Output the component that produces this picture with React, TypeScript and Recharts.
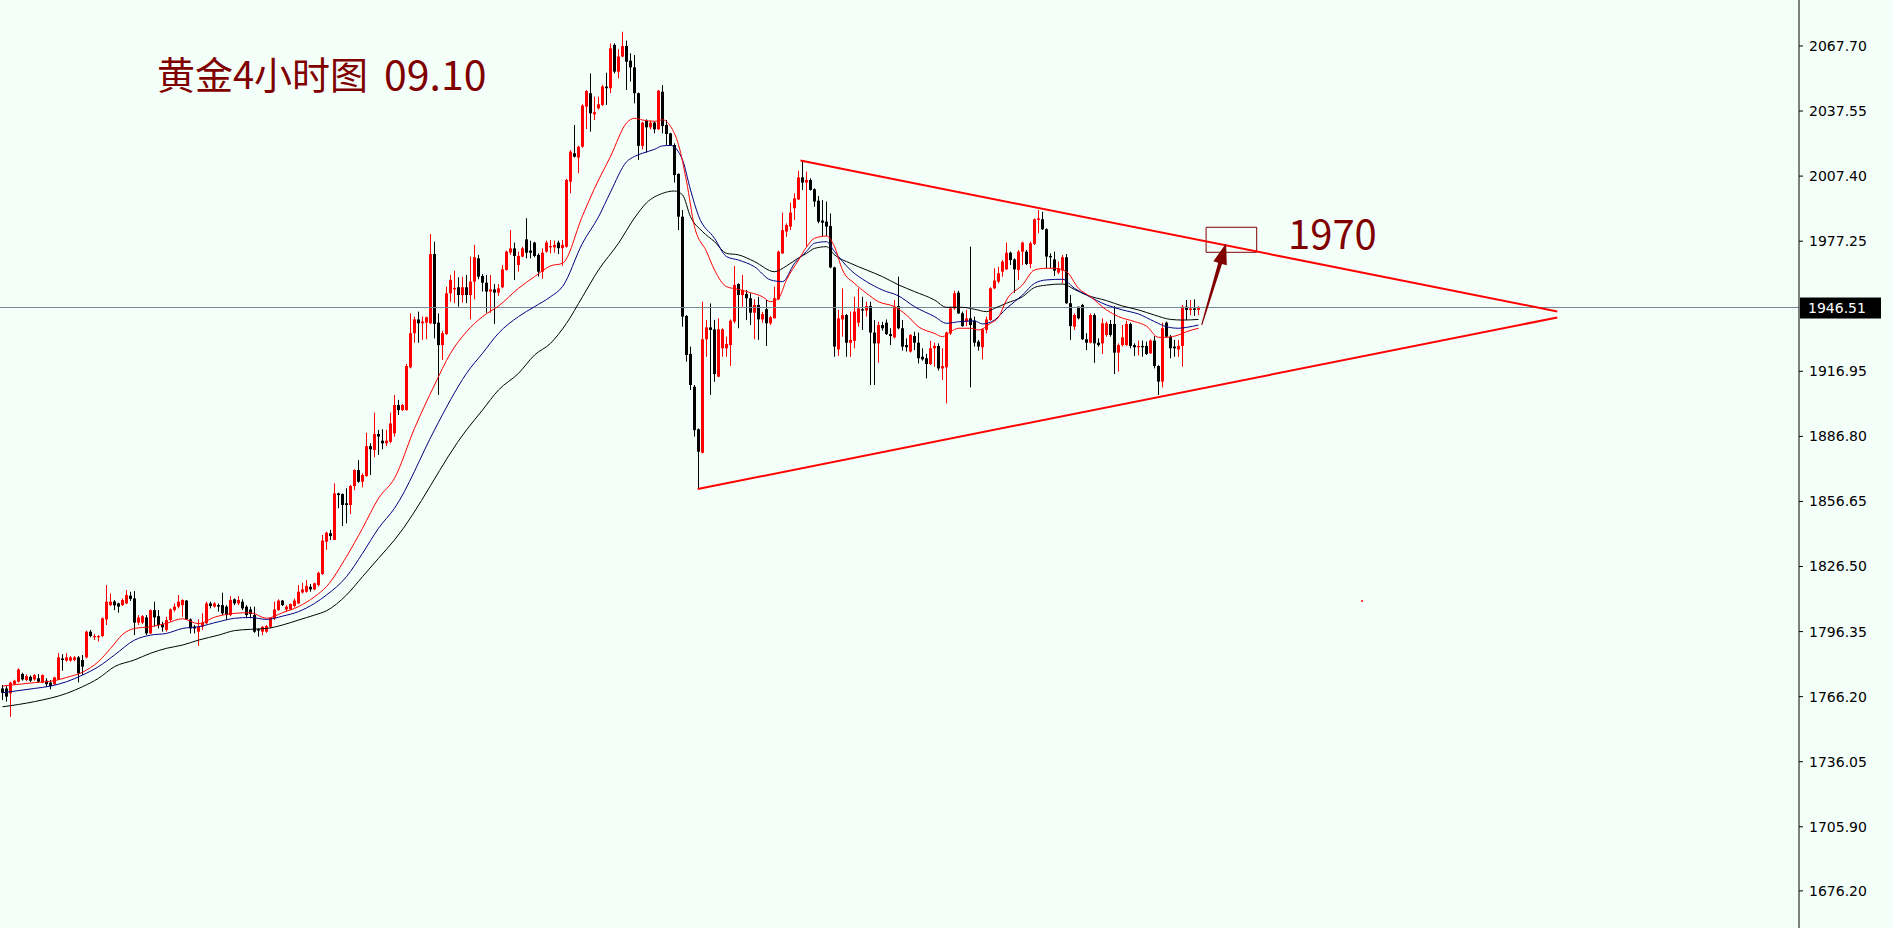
import React from "react";
import {
  Bar,
  ComposedChart,
  Line,
  ReferenceArea,
  ReferenceDot,
  ReferenceLine,
  XAxis,
  YAxis,
} from "recharts";

const W = 1893;
const H = 928;
const BG = "#f5fffa";
const UP = "#ff0000";
const DOWN = "#000000";
const NOTE = "#800000";

// 4h candles, [open, high, low, close]
const CANDLES: number[][] = [
  [1770.0, 1771.6, 1764.6, 1768.0], [1770.0, 1771.1, 1763.9, 1766.2], [1767.7, 1773.1, 1756.9, 1772.7],
  [1772.0, 1774.0, 1771.6, 1773.6], [1773.1, 1779.3, 1772.7, 1778.8], [1776.7, 1777.3, 1773.6, 1774.2],
  [1773.9, 1776.5, 1773.3, 1775.7], [1775.4, 1776.0, 1773.0, 1773.6], [1774.2, 1776.7, 1773.6, 1776.2],
  [1774.7, 1776.7, 1772.7, 1773.1], [1772.8, 1776.5, 1772.5, 1776.2], [1773.6, 1774.7, 1770.8, 1772.0],
  [1772.7, 1773.9, 1769.6, 1771.1], [1772.0, 1775.4, 1771.6, 1775.1], [1774.2, 1786.3, 1773.9, 1784.4],
  [1783.9, 1785.9, 1778.2, 1783.2], [1782.9, 1786.3, 1782.4, 1784.4], [1782.9, 1785.0, 1782.4, 1784.4],
  [1783.2, 1785.0, 1782.6, 1784.4], [1784.4, 1785.0, 1772.8, 1777.0], [1783.2, 1785.5, 1776.2, 1780.1],
  [1784.4, 1796.8, 1783.9, 1796.3], [1796.3, 1797.1, 1793.7, 1794.3], [1793.7, 1795.2, 1792.4, 1794.3],
  [1793.7, 1794.7, 1791.7, 1794.3], [1794.3, 1802.9, 1793.7, 1802.5], [1802.0, 1817.9, 1799.4, 1810.2],
  [1808.6, 1814.0, 1808.2, 1810.2], [1810.3, 1811.0, 1806.3, 1808.5], [1809.4, 1809.7, 1805.1, 1807.9],
  [1808.6, 1811.7, 1808.2, 1811.0], [1809.4, 1815.6, 1809.1, 1813.3], [1813.0, 1814.8, 1810.5, 1811.5],
  [1811.7, 1815.1, 1794.7, 1800.5], [1800.5, 1804.0, 1799.4, 1802.9], [1800.5, 1804.0, 1799.8, 1803.5],
  [1802.9, 1804.0, 1794.7, 1795.5], [1795.5, 1806.6, 1795.2, 1806.3], [1806.3, 1810.2, 1798.6, 1802.9],
  [1803.5, 1806.3, 1797.8, 1799.4], [1799.8, 1800.9, 1796.3, 1798.3], [1797.1, 1803.2, 1796.3, 1801.7],
  [1801.7, 1807.1, 1800.9, 1806.6], [1806.3, 1809.4, 1805.6, 1807.9], [1807.9, 1813.3, 1807.1, 1810.2],
  [1808.6, 1811.3, 1803.2, 1811.0], [1810.7, 1811.0, 1801.7, 1802.0], [1802.0, 1802.5, 1795.5, 1797.8],
  [1798.6, 1799.4, 1795.5, 1797.8], [1796.3, 1802.0, 1789.7, 1798.6], [1798.6, 1804.8, 1797.1, 1800.5],
  [1800.2, 1810.2, 1799.8, 1809.4], [1809.4, 1810.2, 1807.1, 1808.2], [1807.9, 1810.0, 1807.5, 1809.4],
  [1808.6, 1809.4, 1805.6, 1807.9], [1808.6, 1814.4, 1804.0, 1804.8], [1807.9, 1808.6, 1801.7, 1804.0],
  [1804.0, 1812.8, 1803.5, 1811.0], [1811.3, 1811.7, 1808.6, 1809.4], [1809.4, 1812.8, 1808.6, 1811.0],
  [1810.2, 1811.3, 1806.3, 1807.1], [1807.9, 1808.6, 1802.5, 1804.0], [1806.6, 1807.9, 1802.5, 1804.5],
  [1804.0, 1807.9, 1795.8, 1796.3], [1797.4, 1797.8, 1794.0, 1796.8], [1796.3, 1798.9, 1794.7, 1798.6],
  [1796.3, 1799.4, 1795.8, 1798.9], [1798.6, 1802.9, 1797.8, 1802.5], [1802.5, 1810.2, 1801.7, 1806.6],
  [1806.3, 1811.3, 1806.0, 1810.7], [1810.7, 1811.0, 1808.2, 1808.6], [1806.6, 1808.6, 1805.6, 1807.9],
  [1806.6, 1809.4, 1806.3, 1809.1], [1808.2, 1811.7, 1807.5, 1810.7], [1809.4, 1817.9, 1809.1, 1814.8],
  [1814.5, 1819.0, 1814.0, 1815.9], [1814.8, 1820.2, 1814.4, 1817.5], [1817.1, 1818.4, 1814.8, 1815.9],
  [1815.9, 1819.0, 1815.6, 1818.7], [1817.9, 1824.1, 1817.2, 1823.6], [1823.0, 1841.1, 1822.6, 1838.5],
  [1838.0, 1842.6, 1834.2, 1842.2], [1841.9, 1843.5, 1838.8, 1840.6], [1838.8, 1865.0, 1838.8, 1860.4],
  [1860.4, 1860.7, 1853.5, 1859.6], [1860.1, 1860.4, 1845.3, 1855.0], [1855.8, 1862.7, 1846.5, 1855.0],
  [1855.0, 1864.3, 1850.8, 1863.8], [1863.8, 1871.5, 1861.9, 1871.2], [1871.2, 1875.8, 1865.3, 1865.8],
  [1865.8, 1869.7, 1863.2, 1868.9], [1868.4, 1888.5, 1868.1, 1882.3], [1882.3, 1883.6, 1868.9, 1880.8],
  [1880.5, 1897.8, 1877.1, 1887.9], [1887.9, 1889.8, 1878.2, 1886.7], [1884.8, 1890.1, 1880.8, 1883.6],
  [1883.6, 1889.8, 1882.3, 1884.8], [1884.3, 1897.8, 1883.6, 1892.8], [1888.2, 1906.0, 1886.7, 1901.3],
  [1901.3, 1903.7, 1896.7, 1899.0], [1899.0, 1901.8, 1898.5, 1901.3], [1899.0, 1920.4, 1898.7, 1919.4],
  [1918.8, 1943.8, 1918.3, 1934.6], [1934.6, 1942.3, 1930.2, 1941.0], [1941.0, 1944.6, 1930.2, 1939.2],
  [1939.2, 1942.3, 1931.5, 1940.0], [1939.5, 1942.3, 1931.8, 1942.0], [1939.2, 1980.6, 1938.9, 1971.3],
  [1971.3, 1977.0, 1932.2, 1938.9], [1939.5, 1943.8, 1906.0, 1929.1], [1929.1, 1935.8, 1922.2, 1934.6],
  [1934.2, 1956.2, 1933.8, 1953.1], [1953.1, 1961.6, 1949.2, 1959.3], [1954.9, 1963.6, 1948.5, 1955.6],
  [1955.9, 1960.5, 1946.9, 1952.3], [1952.3, 1960.8, 1948.8, 1955.9], [1955.9, 1961.6, 1948.5, 1952.3],
  [1952.3, 1970.1, 1941.0, 1958.5], [1958.5, 1975.5, 1950.3, 1969.8], [1969.3, 1970.9, 1959.6, 1960.8],
  [1961.1, 1962.0, 1953.9, 1958.0], [1958.0, 1961.6, 1944.1, 1953.9], [1953.9, 1961.6, 1944.1, 1954.9],
  [1954.9, 1957.4, 1938.9, 1953.4], [1953.4, 1957.4, 1951.9, 1955.4], [1955.9, 1966.2, 1955.4, 1964.2],
  [1963.9, 1972.9, 1963.6, 1972.4], [1972.0, 1982.4, 1970.9, 1973.9], [1973.9, 1976.6, 1959.3, 1970.4],
  [1966.2, 1972.4, 1963.1, 1970.4], [1970.1, 1974.7, 1969.8, 1973.9], [1978.1, 1987.9, 1969.3, 1971.9],
  [1972.9, 1977.5, 1969.3, 1971.9], [1976.6, 1977.0, 1969.8, 1970.4], [1970.9, 1971.6, 1960.8, 1963.1],
  [1963.1, 1973.9, 1959.9, 1971.9], [1972.4, 1977.5, 1971.9, 1976.6], [1974.4, 1977.8, 1971.6, 1975.0],
  [1974.4, 1977.5, 1971.9, 1975.5], [1976.6, 1977.5, 1971.3, 1974.0], [1974.0, 1977.8, 1965.8, 1975.5],
  [1974.7, 2006.1, 1974.2, 2005.6], [2004.8, 2019.5, 1999.4, 2018.7], [2018.0, 2031.1, 2016.0, 2016.4],
  [2016.0, 2021.5, 2008.7, 2021.0], [2021.0, 2040.7, 2020.6, 2040.1], [2039.6, 2047.3, 2029.2, 2046.8],
  [2045.8, 2055.0, 2028.0, 2036.5], [2036.0, 2044.2, 2033.4, 2037.0], [2038.8, 2044.2, 2038.3, 2040.7],
  [2040.4, 2049.6, 2039.9, 2048.9], [2048.9, 2055.3, 2040.4, 2048.1], [2048.1, 2068.9, 2045.8, 2066.6],
  [2068.2, 2068.9, 2055.0, 2055.8], [2055.8, 2066.2, 2052.7, 2062.8], [2062.8, 2074.3, 2062.5, 2067.7],
  [2067.7, 2070.2, 2047.3, 2060.4], [2060.9, 2064.3, 2051.2, 2057.8], [2057.8, 2063.5, 2041.1, 2045.8],
  [2045.8, 2046.1, 2014.9, 2021.4], [2021.4, 2032.6, 2019.8, 2032.2], [2033.0, 2033.7, 2018.3, 2030.0],
  [2030.0, 2033.0, 2029.0, 2032.2], [2032.2, 2032.6, 2027.2, 2029.1], [2029.1, 2047.3, 2028.8, 2047.0],
  [2046.5, 2049.6, 2027.2, 2030.6], [2031.1, 2033.4, 2021.8, 2026.9], [2027.2, 2027.5, 2021.5, 2021.8],
  [2021.8, 2022.6, 2004.4, 2007.9], [2008.4, 2008.7, 1982.4, 1988.6], [1988.6, 1991.7, 1937.6, 1942.3],
  [1942.6, 1943.0, 1921.4, 1924.5], [1925.0, 1928.4, 1908.3, 1910.6], [1909.8, 1910.6, 1886.7, 1889.7],
  [1890.1, 1890.5, 1862.4, 1879.7], [1879.2, 1949.2, 1878.9, 1931.8], [1931.8, 1940.7, 1923.7, 1937.3],
  [1937.3, 1948.4, 1906.0, 1936.1], [1936.4, 1940.7, 1912.1, 1915.7], [1914.5, 1941.5, 1914.2, 1936.4],
  [1927.6, 1936.9, 1923.7, 1936.4], [1927.6, 1933.0, 1923.7, 1929.6], [1929.1, 1941.0, 1919.4, 1940.4],
  [1940.0, 1965.8, 1939.2, 1957.0], [1957.4, 1957.7, 1936.9, 1952.3], [1952.3, 1961.6, 1946.9, 1954.6],
  [1952.8, 1954.6, 1940.7, 1950.8], [1950.8, 1953.1, 1938.4, 1944.1], [1944.1, 1950.3, 1931.8, 1947.7],
  [1947.7, 1951.5, 1931.5, 1941.0], [1941.0, 1944.5, 1939.5, 1943.5], [1945.7, 1950.0, 1928.7, 1939.2],
  [1939.2, 1942.6, 1938.4, 1942.0], [1941.5, 1956.2, 1941.5, 1950.8], [1950.3, 1972.9, 1950.0, 1972.4],
  [1971.6, 1990.5, 1971.3, 1982.4], [1981.7, 1985.5, 1979.3, 1984.7], [1984.0, 1995.1, 1982.4, 1990.5],
  [1992.5, 1999.4, 1987.1, 1997.1], [1996.6, 2009.9, 1996.3, 2006.8], [2006.8, 2014.1, 2001.0, 2004.4],
  [2004.4, 2009.5, 1974.7, 2005.6], [2005.6, 2006.4, 2000.7, 2001.0], [2001.3, 2001.7, 1993.2, 1995.6],
  [1996.0, 1998.2, 1985.5, 1986.3], [1986.8, 1996.3, 1979.6, 1985.8], [1986.3, 1995.6, 1979.6, 1984.0],
  [1984.3, 1990.1, 1964.7, 1965.1], [1965.1, 1965.4, 1923.7, 1928.4], [1927.1, 1945.4, 1924.1, 1941.5],
  [1941.0, 1955.4, 1933.0, 1943.0], [1943.0, 1943.5, 1923.7, 1930.2], [1930.2, 1944.6, 1923.7, 1931.5],
  [1931.1, 1951.5, 1927.6, 1944.6], [1939.5, 1955.4, 1937.6, 1946.1], [1945.7, 1951.5, 1936.1, 1945.1],
  [1945.1, 1949.2, 1942.3, 1947.2], [1947.2, 1949.2, 1910.6, 1934.9], [1934.9, 1940.7, 1910.6, 1929.9],
  [1929.9, 1939.9, 1921.0, 1938.4], [1938.4, 1939.9, 1935.8, 1936.9], [1939.5, 1941.0, 1933.8, 1934.2],
  [1934.2, 1936.9, 1929.1, 1933.3], [1932.7, 1950.0, 1932.2, 1946.9], [1947.2, 1960.8, 1936.4, 1936.9],
  [1936.9, 1940.7, 1926.5, 1928.4], [1929.1, 1932.2, 1926.1, 1928.1], [1926.1, 1934.2, 1925.6, 1933.8],
  [1933.3, 1935.3, 1926.8, 1930.2], [1930.2, 1934.9, 1920.6, 1923.0], [1923.7, 1927.6, 1921.9, 1922.5],
  [1923.0, 1925.0, 1913.7, 1920.3], [1920.3, 1931.1, 1919.9, 1927.6], [1927.6, 1930.2, 1919.1, 1928.7],
  [1928.7, 1929.9, 1917.3, 1918.3], [1918.3, 1927.6, 1912.9, 1919.4], [1918.8, 1935.3, 1902.1, 1934.9],
  [1934.5, 1946.9, 1933.8, 1946.1], [1946.1, 1954.3, 1945.4, 1953.1], [1953.4, 1954.3, 1943.5, 1943.8],
  [1943.8, 1944.6, 1937.6, 1937.9], [1940.0, 1945.4, 1937.9, 1941.5], [1941.5, 1974.7, 1909.5, 1938.4],
  [1940.4, 1942.3, 1928.4, 1930.2], [1930.7, 1931.5, 1926.5, 1928.4], [1928.1, 1936.9, 1922.5, 1936.4],
  [1936.1, 1942.3, 1934.5, 1941.0], [1940.7, 1955.9, 1940.4, 1955.4], [1955.4, 1964.7, 1955.0, 1959.0],
  [1958.5, 1965.4, 1957.7, 1962.4], [1963.1, 1968.5, 1960.8, 1967.8], [1964.2, 1976.6, 1963.9, 1971.9],
  [1971.9, 1972.4, 1966.2, 1968.5], [1968.8, 1969.3, 1953.4, 1964.2], [1963.9, 1973.2, 1959.3, 1972.4],
  [1972.4, 1977.0, 1966.2, 1976.6], [1972.4, 1973.2, 1966.2, 1966.7], [1966.7, 1977.0, 1964.7, 1976.3],
  [1976.0, 1987.8, 1975.5, 1987.4], [1987.1, 1991.7, 1980.9, 1987.8], [1987.4, 1990.9, 1982.4, 1982.8],
  [1982.8, 1983.2, 1964.7, 1970.1], [1970.4, 1971.6, 1964.7, 1969.8], [1968.8, 1972.4, 1961.1, 1963.6],
  [1962.7, 1967.8, 1962.0, 1964.7], [1963.6, 1970.9, 1957.7, 1969.8], [1969.8, 1971.3, 1948.2, 1948.5],
  [1948.5, 1952.3, 1931.5, 1937.9], [1937.6, 1943.8, 1936.1, 1943.0], [1946.9, 1946.9, 1941.0, 1941.5],
  [1947.7, 1948.2, 1931.5, 1931.8], [1931.8, 1934.6, 1926.8, 1930.2], [1930.2, 1943.8, 1929.9, 1943.0],
  [1943.0, 1943.8, 1920.9, 1929.9], [1930.2, 1932.2, 1928.4, 1929.1], [1929.9, 1941.5, 1925.0, 1939.2],
  [1933.8, 1940.0, 1933.0, 1939.2], [1938.9, 1940.7, 1933.0, 1933.8], [1938.9, 1947.2, 1915.7, 1925.6],
  [1925.6, 1929.9, 1916.8, 1929.1], [1929.1, 1938.4, 1928.4, 1932.7], [1929.1, 1940.4, 1928.7, 1938.9],
  [1938.9, 1939.5, 1927.6, 1928.7], [1929.1, 1929.9, 1924.0, 1928.1], [1928.1, 1931.2, 1924.3, 1928.7],
  [1928.7, 1931.2, 1923.7, 1928.1], [1928.7, 1930.7, 1924.5, 1925.0], [1925.3, 1931.8, 1925.0, 1931.2],
  [1931.2, 1933.3, 1918.3, 1919.4], [1919.4, 1919.8, 1906.0, 1912.2], [1912.2, 1939.5, 1909.5, 1936.9],
  [1939.5, 1940.0, 1932.7, 1933.0], [1933.0, 1933.8, 1923.0, 1927.6], [1928.4, 1931.5, 1923.7, 1927.6],
  [1927.1, 1931.5, 1923.7, 1928.7], [1928.7, 1947.7, 1919.1, 1946.9], [1946.9, 1950.0, 1940.7, 1945.4],
  [1945.4, 1950.0, 1943.0, 1946.1], [1946.1, 1950.3, 1942.6, 1945.4], [1945.4, 1947.2, 1943.0, 1946.51],
];

// moving averages, [candle index, price]
const RED_MA: number[][] = [
  [0, 1771.1], [8, 1772.7], [13, 1773.6], [16, 1775.1], [20, 1777.5], [24, 1782.5], [27, 1788.5],
  [30, 1795.0], [33, 1797.8], [37, 1798.6], [41, 1800.2], [45, 1802.3], [49, 1800.0], [53, 1803.0],
  [58, 1804.8], [62, 1805.1], [66, 1802.5], [70, 1805.1], [74, 1807.9], [78, 1812.5], [81, 1817.2],
  [86, 1831.1], [90, 1844.2], [94, 1858.1], [98, 1867.4], [103, 1890.5], [108, 1910.6], [112, 1925.3],
  [116, 1935.3], [120, 1942.3], [124, 1947.2], [129, 1955.4], [133, 1960.8], [137, 1965.8], [140, 1967.0],
  [145, 1989.0], [148, 2001.7], [152, 2016.5], [156, 2032.0], [158, 2034.2], [160, 2033.4], [163, 2032.8],
  [165, 2033.5], [167, 2030.5], [169, 2022.0], [171, 2005.0], [173, 1984.0], [176, 1972.5], [178, 1963.9],
  [181, 1956.2], [184, 1954.9], [187, 1953.4], [190, 1951.5], [192, 1949.2], [194, 1950.8], [196, 1959.3],
  [199, 1968.5], [201, 1974.5], [203, 1978.6], [206, 1979.6], [208, 1974.7], [210, 1963.9], [213, 1957.7],
  [216, 1953.1], [219, 1949.2], [223, 1946.9], [226, 1943.0], [229, 1937.6], [233, 1934.5], [235, 1933.0],
  [237, 1935.3], [239, 1936.9], [242, 1936.9], [244, 1936.1], [247, 1939.2], [249, 1942.0], [251, 1950.0],
  [255, 1957.0], [258, 1963.9], [261, 1964.7], [263, 1964.7], [266, 1963.1], [269, 1955.4], [272, 1951.5],
  [276, 1945.4], [279, 1942.3], [283, 1940.0], [286, 1937.9], [289, 1932.7], [291, 1932.7], [294, 1933.8],
  [296, 1935.3], [299, 1936.9],
];
const BLUE_MA: number[][] = [
  [0, 1768.0], [8, 1770.0], [12, 1771.1], [16, 1773.1], [20, 1776.2], [24, 1780.1], [28, 1785.5],
  [33, 1792.4], [37, 1794.7], [41, 1795.5], [45, 1797.8], [49, 1798.6], [54, 1800.9], [58, 1802.5],
  [62, 1802.9], [66, 1802.0], [70, 1803.5], [74, 1805.6], [78, 1809.4], [81, 1813.3], [86, 1821.8],
  [90, 1832.6], [94, 1844.2], [98, 1853.5], [108, 1889.8], [112, 1903.7], [116, 1916.0], [120, 1925.3],
  [124, 1934.6], [129, 1942.3], [133, 1946.9], [137, 1951.5], [140, 1956.2], [145, 1976.3], [149, 1988.5],
  [152, 2000.0], [156, 2014.0], [158, 2016.5], [160, 2018.0], [163, 2019.8], [165, 2021.4], [167, 2021.6],
  [170, 2014.9], [172, 2001.0], [174, 1989.0], [178, 1978.6], [181, 1970.1], [184, 1968.5], [188, 1965.4],
  [192, 1959.3], [195, 1958.5], [198, 1967.0], [201, 1972.5], [203, 1976.3], [206, 1977.0], [208, 1972.4],
  [212, 1963.9], [216, 1958.5], [220, 1954.6], [224, 1951.9], [228, 1946.9], [233, 1942.3], [236, 1939.2],
  [239, 1939.9], [243, 1940.3], [245, 1938.9], [248, 1940.7], [251, 1946.1], [255, 1952.3], [258, 1957.7],
  [261, 1959.3], [265, 1959.6], [268, 1955.4], [271, 1952.3], [276, 1947.7], [280, 1945.4], [284, 1943.5],
  [288, 1940.0], [291, 1937.6], [294, 1936.9], [296, 1937.3], [299, 1938.4],
];
const BLACK_MA: number[][] = [
  [0, 1761.5], [8, 1763.9], [16, 1767.7], [20, 1770.8], [24, 1774.7], [28, 1780.1], [33, 1783.2],
  [37, 1786.3], [41, 1788.6], [45, 1790.1], [49, 1792.4], [54, 1794.7], [58, 1796.8], [62, 1797.4],
  [66, 1797.8], [70, 1799.4], [74, 1801.7], [78, 1804.0], [81, 1806.0], [86, 1813.3], [90, 1821.8],
  [94, 1830.3], [98, 1838.8], [116, 1889.8], [120, 1899.0], [124, 1908.3], [129, 1916.0], [133, 1924.5],
  [137, 1929.9], [141, 1939.2], [145, 1951.5], [149, 1963.9], [154, 1976.3], [158, 1988.0], [161, 1995.0],
  [165, 1999.4], [168, 2000.5], [170, 1998.7], [172, 1988.6], [175, 1981.7], [178, 1977.0], [181, 1971.6],
  [184, 1970.9], [188, 1967.8], [193, 1963.1], [196, 1965.8], [199, 1969.5], [201, 1971.6], [203, 1973.9],
  [206, 1974.7], [208, 1970.9], [212, 1967.0], [216, 1963.9], [220, 1960.8], [224, 1957.0], [228, 1953.9],
  [233, 1950.0], [236, 1946.6], [240, 1946.6], [243, 1945.7], [246, 1944.6], [248, 1946.1], [251, 1948.5],
  [255, 1951.5], [258, 1955.8], [261, 1956.9], [265, 1957.4], [268, 1954.9], [271, 1952.3], [276, 1949.7],
  [280, 1947.2], [284, 1945.4], [288, 1943.0], [292, 1941.0], [295, 1940.7], [299, 1941.0],
];

const Y_TICKS = [2067.7, 2037.55, 2007.4, 1977.25, 1916.95, 1886.8, 1856.65, 1826.5, 1796.35, 1766.2, 1736.05, 1705.9, 1676.2];
const LAST_PRICE = 1946.51;

// drawn objects, [candle index, price]
const TOP_LINE = [[199.5, 2014.6], [388.7, 1944.7]];
const BOTTOM_LINE = [[173.8, 1862.4], [388.7, 1941.9]];
const ARROW = [[299.8, 1938.4], [305.9, 1976.3]];
const TARGET_BOX = [[300.9, 1972.1], [313.55, 1983.7]];
const STRAY_DOT = [339.9, 1810.5];

const rows: any[] = CANDLES.map(([open, high, low, close], i) => ({
  i, open, high, low, close, range: [low, high],
}));
RED_MA.forEach(([i, v]) => (rows[i].maRed = v));
BLUE_MA.forEach(([i, v]) => (rows[i].maBlue = v));
BLACK_MA.forEach(([i, v]) => (rows[i].maBlack = v));

function Candle(props: any) {
  const { x, y, width, height, payload } = props;
  const { open, high, low, close } = payload;
  const color = close >= open ? UP : DOWN;
  const top = Math.min(y, y + height);
  const px = Math.abs(height) / Math.max(high - low, 0.0001);
  const yOf = (v: number) => top + (high - v) * px;
  const cx = Math.floor(x + width / 2) + 0.5;
  const bodyTop = Math.min(yOf(open), yOf(close));
  const bodyH = Math.max(1, Math.abs(yOf(open) - yOf(close)));
  return (
    <g>
      <line x1={cx} x2={cx} y1={top} y2={top + Math.abs(height)} stroke={color} strokeWidth={1} />
      <rect x={cx - 1.5} y={bodyTop} width={3} height={bodyH} fill={color} />
    </g>
  );
}

function ArrowShape(props: any) {
  const { x1, y1, x2, y2 } = props;
  const len = Math.hypot(x2 - x1, y2 - y1);
  const ux = (x2 - x1) / len;
  const uy = (y2 - y1) / len;
  const nx = -uy;
  const ny = ux;
  const head = 21;
  const bx = x2 - ux * head;
  const by = y2 - uy * head;
  const pts = [
    [x1 + nx * 0.5, y1 + ny * 0.5],
    [bx + nx * 2, by + ny * 2],
    [bx + nx * 7, by + ny * 7],
    [x2, y2],
    [bx - nx * 7, by - ny * 7],
    [bx - nx * 2, by - ny * 2],
    [x1 - nx * 0.5, y1 - ny * 0.5],
  ];
  return <polygon points={pts.map((p) => p.join(",")).join(" ")} fill={NOTE} />;
}

function PriceTag(props: any) {
  const { x, y, width } = props.viewBox;
  const left = x + width + 1;
  return (
    <g>
      <rect x={left} y={y - 10} width={81} height={21} fill="#000" />
      <text x={left + 8} y={y + 5} fill="#fff" fontSize={14} fontFamily="DejaVu Sans">
        {LAST_PRICE.toFixed(2)}
      </text>
    </g>
  );
}

const seg = (s: number[][]) => s.map(([x, y]) => ({ x, y }));

const noteFont = {
  position: "absolute" as const,
  color: NOTE,
  fontFamily: "'Noto Sans CJK SC', 'Noto Sans', sans-serif",
  lineHeight: "44px",
  whiteSpace: "pre" as const,
};

export default function App() {
  return (
    <div style={{ position: "relative", width: W, height: H, background: BG, overflow: "hidden" }}>
      <style>{`body{margin:0;background:${BG}}`}</style>
      <ComposedChart width={W} height={H} data={rows} margin={{ top: 0, right: 0, bottom: 0, left: 0 }}>
        <XAxis dataKey="i" type="number" domain={[-0.625, 449.125]} allowDataOverflow hide />
        <YAxis
          orientation="right"
          width={94}
          domain={[1659, 2089]}
          allowDataOverflow
          ticks={Y_TICKS}
          interval={0}
          tickFormatter={(v) => Number(v).toFixed(2)}
          tick={{ fill: "#000", fontSize: 14, fontFamily: "DejaVu Sans" }}
          tickSize={4}
          tickMargin={6}
          tickLine={{ stroke: "#000" }}
          axisLine={{ stroke: "#000" }}
        />
        <ReferenceLine y={LAST_PRICE} stroke="#778899" strokeWidth={1} label={<PriceTag />} />
        <Bar dataKey="range" barSize={3} shape={<Candle />} isAnimationActive={false} />
        <Line dataKey="maBlack" type="monotone" stroke="#000000" strokeWidth={1} dot={false} activeDot={false} connectNulls isAnimationActive={false} />
        <Line dataKey="maBlue" type="monotone" stroke="#000080" strokeWidth={1} dot={false} activeDot={false} connectNulls isAnimationActive={false} />
        <Line dataKey="maRed" type="monotone" stroke="#ff0000" strokeWidth={1} dot={false} activeDot={false} connectNulls isAnimationActive={false} />
        <ReferenceLine segment={seg(TOP_LINE)} stroke="#ff0000" strokeWidth={2} />
        <ReferenceLine segment={seg(BOTTOM_LINE)} stroke="#ff0000" strokeWidth={2} />
        <ReferenceArea
          x1={TARGET_BOX[0][0]}
          x2={TARGET_BOX[1][0]}
          y1={TARGET_BOX[0][1]}
          y2={TARGET_BOX[1][1]}
          fill="none"
          fillOpacity={0}
          stroke={NOTE}
          strokeWidth={1}
        />
        <ReferenceLine segment={seg(ARROW)} shape={ArrowShape} />
        <ReferenceDot x={STRAY_DOT[0]} y={STRAY_DOT[1]} r={1} fill="#ff0000" stroke="none" />
      </ComposedChart>
      <div style={{ ...noteFont, left: 157, top: 51, fontSize: 38 }}>黄金4小时图</div>
      <div style={{ ...noteFont, left: 384, top: 50, fontSize: 41 }}>09.10</div>
      <div style={{ ...noteFont, left: 1288, top: 210, fontSize: 40 }}>1970</div>
    </div>
  );
}
